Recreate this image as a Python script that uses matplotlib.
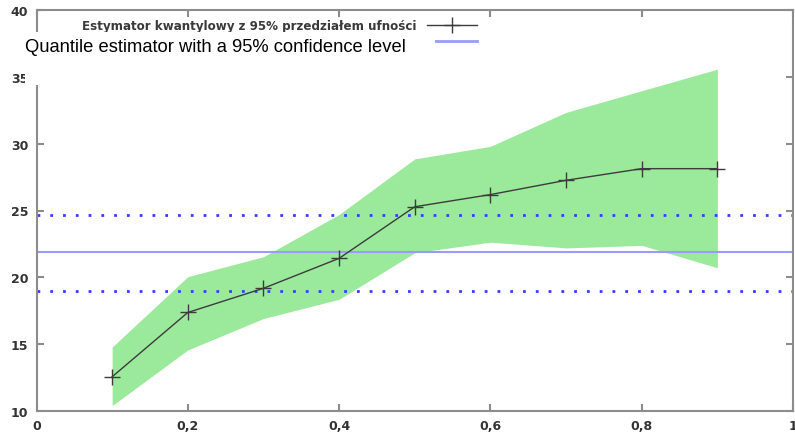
import matplotlib.pyplot as plt
import numpy as np
from matplotlib.patches import Rectangle
from matplotlib.lines import Line2D

# wartości
kwantyle = [0.1, 0.2, 0.3, 0.4, 0.5, 0.6, 0.7, 0.8, 0.9]
estymator = [12.56, 17.37, 19.18, 21.42, 25.28, 26.19, 27.26, 28.13, 28.13]
przedzial_gora = [14.78, 20.05, 21.54, 24.7, 28.86, 29.8, 32.34, 33.96, 35.57]
przedzial_dol = [10.4, 14.57, 16.92, 18.36, 21.84, 22.63, 22.2, 22.39, 20.72]
poziom_srodek = 21.87
poziom_gora = 24.68
poziom_dol = 19.0

xticks = [0, 0.2, 0.4, 0.6, 0.8, 1]
xtick_labels = ['0', '0,2', '0,4', '0,6', '0,8', '1']
yticks = [10, 15, 20, 25, 30, 35, 40]

W, H = 795, 439
fig = plt.figure(figsize=(W / 100, H / 100), dpi=100)
ax = fig.add_axes([36.5 / W, (H - 412) / H, 756.5 / W, 401 / H])

# pas ufności
ax.fill_between(kwantyle, przedzial_dol, przedzial_gora, color='#9be99b', linewidth=0, zorder=1)

# linie poziome
ax.axhline(poziom_srodek, color='#9a9aff', lw=1.5, zorder=2)
ax.axhline(poziom_gora, color='#3a3aff', lw=2, ls=(0, (1, 3.6)), zorder=2)
ax.axhline(poziom_dol, color='#3a3aff', lw=2, ls=(0, (1, 3.6)), zorder=2)

# estymator kwantylowy
ax.plot(kwantyle, estymator, color='#3c3c3c', lw=1, marker='+', markersize=12,
        markeredgewidth=1, zorder=3)

ax.set_xlim(0, 1)
ax.set_ylim(10, 40)
ax.set_xticks(xticks)
ax.set_xticklabels(xtick_labels)
ax.set_yticks(yticks)

for s in ax.spines.values():
    s.set_color('#8c8c8c')
    s.set_linewidth(1.5)
ax.tick_params(direction='in', length=5, width=1.5, color='#8c8c8c',
               top=True, right=True, labelsize=9, labelcolor='#333333', pad=6)
for lab in ax.get_xticklabels() + ax.get_yticklabels():
    lab.set_fontweight('bold')

# legenda
uchwyty = [
    Line2D([], [], color='#3c3c3c', lw=1, marker='+', markersize=12, markeredgewidth=1),
    Line2D([], [], color='#9a9aff', lw=2),
]
leg = ax.legend(uchwyty, ['Estymator kwantylowy z 95% przedziałem ufności', ' '],
                loc='upper right', bbox_to_anchor=(483 / W, 1 - 14 / H),
                bbox_transform=fig.transFigure, frameon=False, markerfirst=False,
                handlelength=4.2, handletextpad=0.9, borderpad=0, labelspacing=0.25,
                prop={'size': 8.6, 'weight': 'semibold'})
for t in leg.get_texts():
    t.set_color('#3a3a3a')

# biała nakładka z angielskim podpisem
fig.add_artist(Rectangle((25 / W, 1 - 86 / H), 410 / W, 53 / H, transform=fig.transFigure,
                         facecolor='white', edgecolor='none', zorder=10))
fig.text(25 / W, 1 - 48 / H, 'Quantile estimator with a 95% confidence level',
         fontsize=13.2, family='Liberation Sans', color='black', va='center', ha='left', zorder=11)

fig.savefig('out.png', dpi=100)
